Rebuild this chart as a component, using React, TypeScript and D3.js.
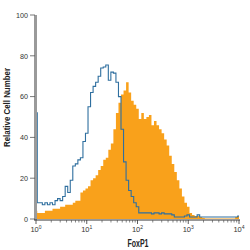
import * as React from "react";
import * as d3 from "d3";

// histogram bins, log10 step of 0.05 from 10^0 to 10^4
const binStep = 0.05;
const orangeCounts = [
  4, 3, 3, 3, 4, 4, 4, 5, 5, 5, 6, 6, 7, 7, 7, 8, 9, 9, 13, 14,
  15, 16, 19, 20, 21.5, 24, 26, 29, 30, 34, 37, 44, 52, 57, 61, 63, 67, 62, 58, 56,
  54, 49, 52, 49, 50, 51, 46, 48, 46, 44, 42, 39, 36, 31, 27, 23, 19, 15, 11, 8,
  6, 3, 2, 1.5, 1.5, 1, 0.5, 0.3, 0.3, 0.3, 0.3, 0.3, 0.3, 0.3, 0.3, 0.3, 0.3, 0.3, 0.3, 1, 1.5,
];
const blueCounts = [
  52, 8, 8, 7, 8, 7, 8, 7, 9, 10, 9, 11, 16, 13, 19, 26, 27, 29, 30, 38,
  42, 55, 62, 65, 67, 70, 74, 74.5, 75.5, 68, 72, 71.5, 67, 60, 44, 28, 19, 14, 11, 8,
  6, 3, 3, 3, 3, 3, 2.5, 3, 3, 2.5, 3, 2.5, 2.5, 2.5, 2, 1, 1, 1, 1, 1.5,
  2, 1, 1, 1, 2, 1, 1, 1, 1, 1, 1, 1, 1, 1, 1, 1, 1, 1, 1, 1, 1.5,
];
const yTicks = [0, 20, 40, 60, 80, 100];
const xDecades = [0, 1, 2, 3, 4];

const font = "'Liberation Sans Narrow', 'Liberation Sans', Arial, sans-serif";

export default function App() {
  const x = d3.scaleLog().domain([1, 10000]).range([36, 239]);
  const y = d3.scaleLinear().domain([0, 100]).range([219, 15]);

  const toPts = (counts: number[]) =>
    counts.map((c, i) => [Math.pow(10, i * binStep), c] as [number, number]);

  const area = d3
    .area<[number, number]>()
    .x((d) => x(d[0]))
    .y0(y(0))
    .y1((d) => y(d[1]))
    .curve(d3.curveStep);
  const line = d3
    .line<[number, number]>()
    .x((d) => x(d[0]))
    .y((d) => y(d[1]))
    .curve(d3.curveStep);

  const minorTicks: number[] = [];
  for (let d = 0; d < 4; d++) {
    for (let k = 2; k <= 9; k++) minorTicks.push(k * Math.pow(10, d));
  }

  return (
    <svg
      width={250}
      height={250}
      style={{ position: "absolute", left: 0, top: 0, background: "#fff" }}
    >
      <path d={area(toPts(orangeCounts)) || ""} fill="#f9a11b" />
      <path
        d={line(toPts(blueCounts)) || ""}
        fill="none"
        stroke="#2f6f9f"
        strokeWidth={1.1}
      />

      {/* y axis */}
      <line x1={35.5} x2={35.5} y1={y(100)} y2={y(0) + 1} stroke="#9a9a9a" strokeWidth={3} />
      {yTicks.map((t) => (
        <g key={t}>
          <line x1={30} x2={35} y1={y(t)} y2={y(t)} stroke="#555" strokeWidth={0.8} />
          <text
            x={28}
            y={y(t)}
            dy="0.35em"
            textAnchor="end"
            fontSize={8}
            fontFamily={font}
            fill="#333"
            textLength={t === 100 ? 12 : t === 0 ? 4 : 8}
            lengthAdjust="spacingAndGlyphs"
          >
            {t}
          </text>
        </g>
      ))}

      {/* x axis */}
      <line x1={34} x2={240} y1={y(0) + 1} y2={y(0) + 1} stroke="#333" strokeWidth={1} />
      {minorTicks.map((t) => (
        <line
          key={t}
          x1={x(t)}
          x2={x(t)}
          y1={y(0) + 1}
          y2={y(0) + 3.5}
          stroke="#555"
          strokeWidth={0.7}
        />
      ))}
      {xDecades.map((d) => (
        <g key={d}>
          <line
            x1={x(Math.pow(10, d))}
            x2={x(Math.pow(10, d))}
            y1={y(0) + 1}
            y2={y(0) + 5}
            stroke="#333"
            strokeWidth={0.8}
          />
          <text
            x={x(Math.pow(10, d))}
            y={232}
            textAnchor="middle"
            fontSize={7.5}
            fontFamily={font}
            fill="#333"
          >
            10
            <tspan fontSize={5} dy={-3}>
              {d}
            </tspan>
          </text>
        </g>
      ))}

      <text
        x={138}
        y={247}
        textAnchor="middle"
        fontSize={10.5}
        fontWeight="bold"
        fontFamily={font}
        fill="#222"
        textLength={21}
        lengthAdjust="spacingAndGlyphs"
      >
        FoxP1
      </text>
      <text
        transform="translate(9.5,107.5) rotate(-90)"
        textAnchor="middle"
        fontSize={8.5}
        fontWeight="bold"
        fontFamily={font}
        fill="#222"
        textLength={79}
        lengthAdjust="spacingAndGlyphs"
      >
        Relative Cell Number
      </text>
    </svg>
  );
}
